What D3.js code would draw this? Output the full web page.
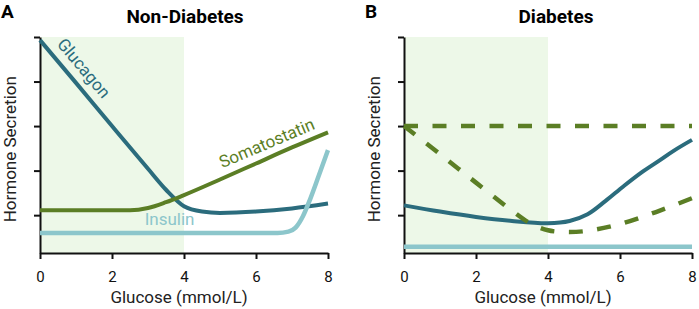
<!DOCTYPE html>
<html>
<head>
<meta charset="utf-8">
<script src="https://cdn.jsdelivr.net/npm/d3@7/dist/d3.min.js"></script>
<style>
  body { margin: 0; background: #fff; }
  svg { font-family: Roboto, "Noto Sans", sans-serif; }
</style>
</head>
<body>
<svg id="chart" width="699" height="309"></svg>
<script>
// Overall dimension
const width = 699, height = 309;

// Axis ticks
const xTicks = [0, 2, 4, 6, 8];
const yTicks = [1, 2, 3, 4, 5];
const shadeRange = [0, 4];

// Non-Diabetes series (glucose, secretion)
const glucagonA = [[0, 4.93], [1, 3.97], [2, 3.0], [3, 2.04], [3.5, 1.57], [4, 1.2], [4.5, 1.08], [5, 1.05], [6, 1.08], [7, 1.15], [8, 1.26]];
const somatostatinA = [[0, 1.11], [2.5, 1.11], [3, 1.16], [3.5, 1.29], [4, 1.45], [5, 1.8], [6, 2.16], [7, 2.52], [8, 2.86]];
const insulinA = [[0, 0.6], [6.6, 0.6], [6.9, 0.63], [7.1, 0.72], [7.3, 0.97], [7.5, 1.35], [7.75, 1.9], [8, 2.46]];

// Diabetes series
const glucagonB = [[0, 1.22], [1, 1.08], [2, 0.96], [3, 0.87], [4, 0.82], [4.6, 0.87], [5.1, 1.02], [5.6, 1.32], [6.1, 1.65], [6.6, 1.96], [7.1, 2.23], [7.5, 2.45], [8, 2.69]];
const somatostatinFlatB = [[0, 3.0], [8, 3.0]];
const somatostatinDipB = [[0, 3.0], [1, 2.37], [2, 1.73], [3, 1.1], [3.5, 0.82], [4, 0.66], [4.6, 0.62], [5.2, 0.66], [6, 0.8], [7, 1.07], [8, 1.38]];
const insulinB = [[0, 0.29], [8, 0.29]];

const colGlucagon = "#2b6c7d",
      colSomato = "#5b7e25",
      colInsulin = "#8cc6cb",
      colShade = "#edf8e8";

const svg = d3.select("#chart");

function drawPanel(left, letter, title, titleX, series, labels) {
    let x = d3.scaleLinear().domain([0, 8]).range([left, left + 288]);
    let y = d3.scaleLinear().domain([0.15, 5]).range([253, 37]);
    let g = svg.append("g");

    // shaded band
    g.append("rect")
        .attr("x", x(shadeRange[0]))
        .attr("y", y(5))
        .attr("width", x(shadeRange[1]) - x(shadeRange[0]))
        .attr("height", y(0.15) - y(5))
        .attr("fill", colShade);

    // Y axis (no labels)
    g.append("g")
        .attr("transform", `translate(${x(0)},0)`)
        .call(d3.axisLeft(y).tickValues(yTicks).tickSize(6).tickSizeOuter(0).tickFormat(""))
        .call(a => a.selectAll("path, line").attr("stroke", "#111").attr("stroke-width", 2));

    // X axis
    g.append("g")
        .attr("transform", `translate(0,${y(0.15)})`)
        .call(d3.axisBottom(x).tickValues(xTicks).tickSize(6).tickPadding(12).tickSizeOuter(0))
        .call(a => a.selectAll("path, line").attr("stroke", "#111").attr("stroke-width", 2))
        .call(a => a.selectAll("text").attr("font-size", 15).attr("fill", "#111").attr("font-family", "Roboto"));

    // lines
    series.forEach(s => {
        let line = d3.line()
            .x(d => x(d[0]))
            .y(d => y(d[1]))
            .curve(s.curve || d3.curveMonotoneX);
        g.append("path")
            .attr("d", line(s.data))
            .attr("fill", "none")
            .attr("stroke", s.color)
            .attr("stroke-width", s.w || 4)
            .attr("stroke-dasharray", s.dash || null);
    });

    // line labels
    labels.forEach(l => {
        g.append("text")
            .attr("transform", `translate(${x(l.at[0])},${y(l.at[1])}) rotate(${l.rot})`)
            .attr("text-anchor", "middle")
            .attr("dy", "0.35em")
            .attr("font-size", 17)
            .attr("fill", l.color)
            .text(l.text);
    });

    // Titles
    svg.append("text")
        .attr("x", left - 39).attr("y", 18)
        .attr("font-size", 19).attr("font-weight", "bold")
        .text(letter);
    svg.append("text")
        .attr("x", titleX).attr("y", 23)
        .attr("text-anchor", "middle")
        .attr("font-size", 19).attr("font-weight", "bold")
        .text(title);
    svg.append("text")
        .attr("x", x(4) - 5).attr("y", 303)
        .attr("text-anchor", "middle")
        .attr("font-size", 17)
        .attr("fill", "#222")
        .text("Glucose (mmol/L)");
    svg.append("text")
        .attr("transform", `translate(${left - 24},${y(2.48)}) rotate(-90)`)
        .attr("text-anchor", "middle")
        .attr("font-size", 17)
        .attr("fill", "#222")
        .text("Hormone Secretion");
}

drawPanel(40, "A", "Non-Diabetes", 185,
    [
        {data: glucagonA, color: colGlucagon},
        {data: somatostatinA, color: colSomato},
        {data: insulinA, color: colInsulin, w: 4.5}
    ],
    [
        {text: "Glucagon", at: [1.22, 4.3], rot: 50, color: colGlucagon},
        {text: "Somatostatin", at: [6.3, 2.62], rot: -23, color: colSomato},
        {text: "Insulin", at: [3.6, 0.91], rot: 0, color: colInsulin}
    ]);

drawPanel(404, "B", "Diabetes", 556,
    [
        {data: insulinB, color: colInsulin, w: 4.5},
        {data: glucagonB, color: colGlucagon, curve: d3.curveCatmullRom.alpha(0.5)},
        {data: somatostatinFlatB, color: colSomato, w: 4.5, dash: "14,14.5"},
        {data: somatostatinDipB, color: colSomato, w: 4.5, dash: "14,14.5", curve: d3.curveCatmullRom.alpha(0.5)}
    ],
    []);
</script>
</body>
</html>
